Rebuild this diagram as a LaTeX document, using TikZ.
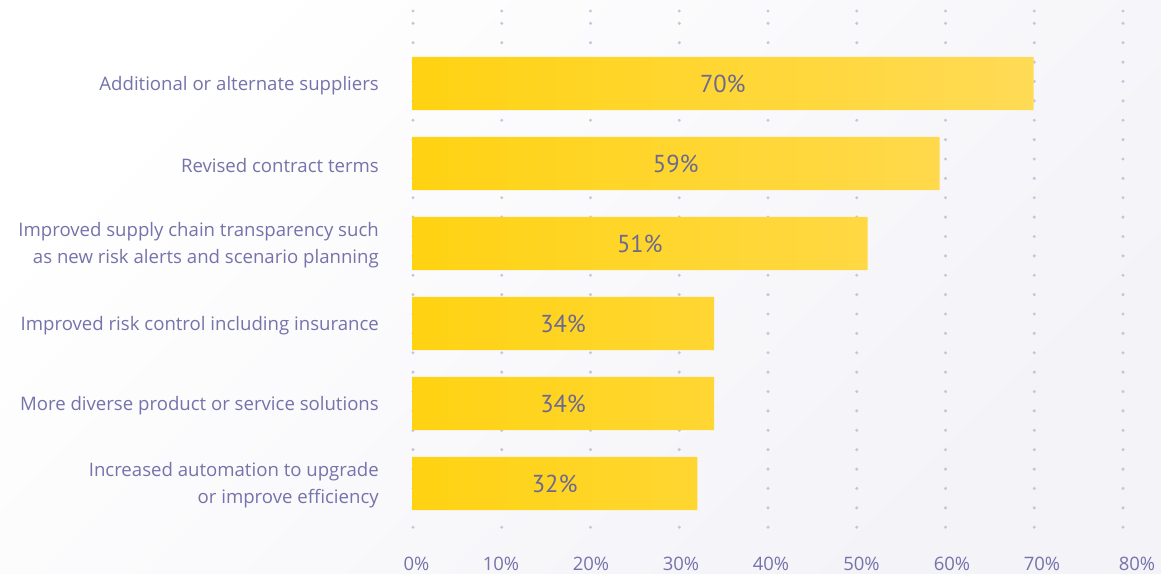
\documentclass[tikz,border=0pt]{standalone}
\usepackage{fontspec}
\setmainfont{Open Sans}
\newfontfamily\valfont{PT Sans}
\definecolor{barA}{HTML}{FFD000}
\definecolor{barB}{HTML}{FFDF78}
\definecolor{labc}{HTML}{7672AB}
\definecolor{valc}{HTML}{6C6A90}
\definecolor{dotc}{HTML}{C6C5DC}
\definecolor{bgB}{HTML}{F3F3F8}
\pgfdeclarehorizontalshading{barshade}{100bp}{color(0bp)=(barA); color(12bp)=(barA); color(100bp)=(barB)}
\begin{document}
\begin{tikzpicture}[x=1pt,y=-1pt,
  cat/.style={anchor=east, inner sep=0pt, align=right, text=labc, font=\fontsize{18.6}{26.7}\selectfont},
  val/.style={anchor=base, inner sep=0pt, text=valc, font=\valfont\fontsize{24.5}{28}\selectfont},
  tick/.style={anchor=base, inner sep=0pt, text=labc, font=\fontsize{18.5}{22}\selectfont},
  bar/.style={draw=none, fill=none, inner sep=0pt, anchor=west, minimum height=53pt, minimum width=#1*8.875pt},
  dot/.style={fill=dotc}
]
% background
\shade[top color=white, bottom color=bgB, shading angle=45] (0,0) rectangle (1161,573);
\useasboundingbox (0,0) rectangle (1161,573);
% dotted grid
\foreach \i in {0,...,8}{
  \fill[dot] ({413+88.75*\i},11) circle[radius=1.7pt];
  \fill[dot] ({413+88.75*\i},23.3) circle[radius=1.7pt];
  \foreach \k in {0,...,25}{
    \fill[dot] ({413+88.75*\i},{42.7+19.38*\k}) circle[radius=1.7pt];
  }
}
% bars
\node[bar=70] (b1) at (412,83.5) {};
\node[bar=59.4] (b2) at (412,163.5) {};
\node[bar=51.3] (b3) at (412,243.5) {};
\node[bar=34] (b4) at (412,323.5) {};
\node[bar=34] (b5) at (412,403.5) {};
\node[bar=32.1] (b6) at (412,483.5) {};
\begin{scope}
  \clip (b1.north west) rectangle (b1.south east)
        (b2.north west) rectangle (b2.south east)
        (b3.north west) rectangle (b3.south east)
        (b4.north west) rectangle (b4.south east)
        (b5.north west) rectangle (b5.south east)
        (b6.north west) rectangle (b6.south east);
  \shade[shading=barshade] (412,50) rectangle (1034,520);
\end{scope}
% values
\node[val] (v1) at ([yshift=-9pt]b1.center) {70\%};
\node[val] (v2) at ([yshift=-9pt]b2.center) {59\%};
\node[val] (v3) at ([yshift=-9pt]b3.center) {51\%};
\node[val] (v4) at ([yshift=-9pt]b4.center) {34\%};
\node[val] (v5) at ([yshift=-9pt]b5.center) {34\%};
\node[val] (v6) at ([yshift=-9pt]b6.center) {32\%};
% categories
\node[cat] (c1) at (379,85.5) {Additional or alternate suppliers};
\node[cat] (c2) at (379,165.5) {Revised contract terms};
\node[cat] (c3) at (379,245.5) {Improved supply chain transparency such\hspace{5.5pt}\\as new risk alerts and scenario planning};
\node[cat] (c4) at (379,325.5) {Improved risk control including insurance};
\node[cat] (c5) at (379,405.5) {More diverse product or service solutions};
\node[cat] (c6) at (379,485.5) {Increased automation to upgrade\\or improve efficiency};
% ticks
\node[tick] (t0) at (416.5,570) {0\%};
\node[tick] (t1) at (501,570) {10\%};
\node[tick] (t2) at (591,570) {20\%};
\node[tick] (t3) at (681,570) {30\%};
\node[tick] (t4) at (771,570) {40\%};
\node[tick] (t5) at (861.5,570) {50\%};
\node[tick] (t6) at (952,570) {60\%};
\node[tick] (t7) at (1042,570) {70\%};
\node[tick] (t8) at (1137,570) {80\%};
\end{tikzpicture}
\end{document}
